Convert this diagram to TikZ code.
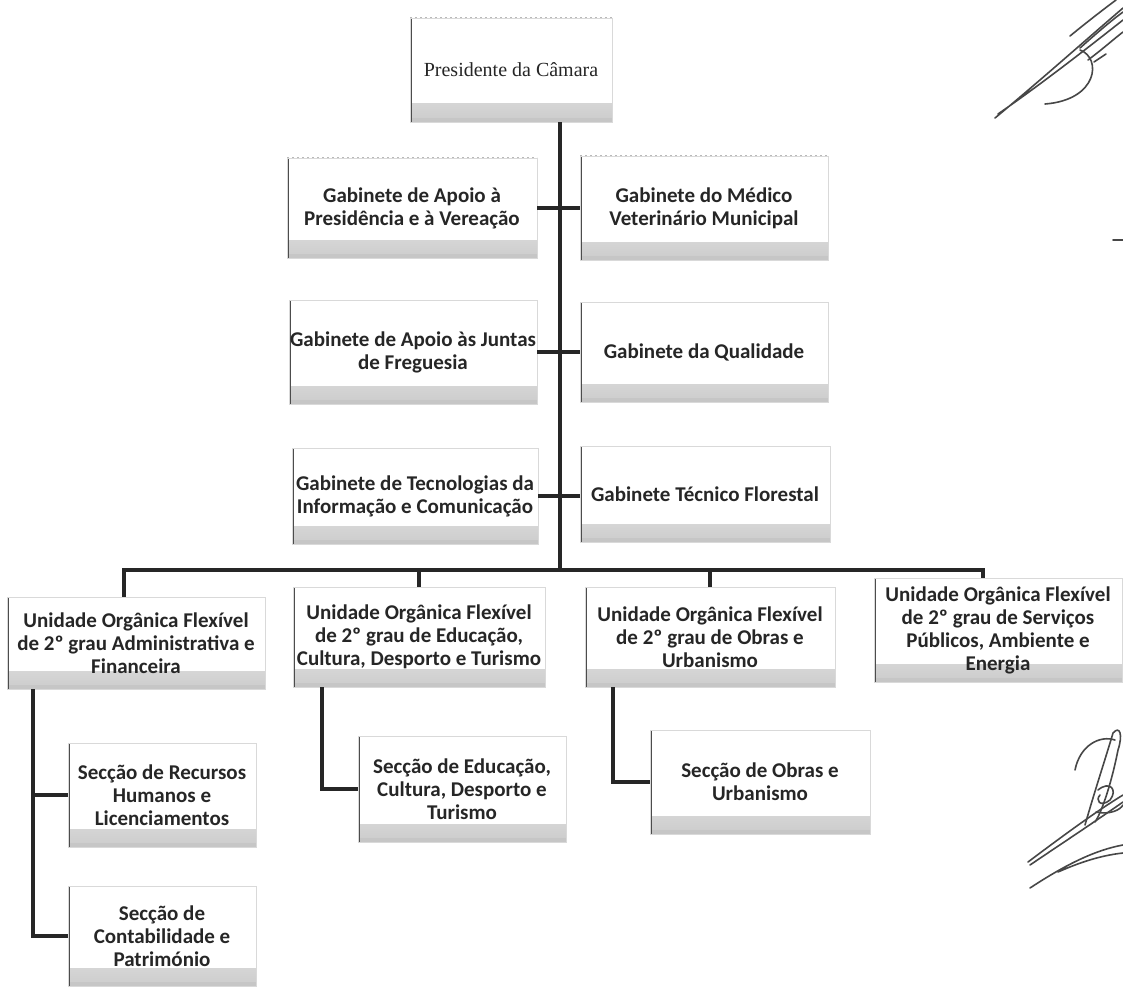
\documentclass[tikz,border=0pt]{standalone}
\usepackage{fontspec}
\newfontfamily\carlito{Carlito}
\newfontfamily\timesf{Liberation Serif}
\usetikzlibrary{calc}
\begin{document}
\begin{tikzpicture}[x=1pt,y=-1pt,
  box/.style={draw=gray!30, line width=0.5pt, fill=white, align=center, text=black!85,
    font=\carlito\bfseries\fontsize{21}{23}\selectfont, inner sep=0pt,
    path picture={
      \shade[top color=white, bottom color=gray!40]
        ([yshift=18pt]path picture bounding box.south west) rectangle ([yshift=4pt]path picture bounding box.south east);
      \fill[gray!45] ([yshift=4pt]path picture bounding box.south west) rectangle (path picture bounding box.south east);
      \draw[line width=3pt, black!70] (path picture bounding box.north west) -- (path picture bounding box.south west);
      \draw[line width=1pt, gray!55, dash pattern=on 2pt off 3pt] (path picture bounding box.north west) -- (path picture bounding box.north east);
    }},
  conn/.style={line width=4pt, black!85},
  sig/.style={line width=1.6pt, black!72, line cap=round, line join=round}]
\useasboundingbox (0,0) rectangle (1123,987);
\fill[white] (0,0) rectangle (1123,987);

% top node
\node[box, minimum width=202pt, minimum height=104pt,
      font=\timesf\fontsize{20}{24}\selectfont] (pres) at (511,70) {Presidente da Câmara};

% gabinetes
\node[box, minimum width=250pt, minimum height=100pt] (g1) at (412,208) {Gabinete de Apoio à\\Presidência e à Vereação};
\node[box, minimum width=248pt, minimum height=104pt] (g2) at (704,208) {Gabinete do Médico\\Veterinário Municipal};
\node[box, minimum width=248pt, minimum height=104pt] (g3) at (413,352) {Gabinete de Apoio às Juntas\\de Freguesia};
\node[box, minimum width=248pt, minimum height=100pt] (g4) at (704,352) {Gabinete da Qualidade};
\node[box, minimum width=246pt, minimum height=96pt] (g5) at (415,496) {Gabinete de Tecnologias da\\Informação e Comunicação};
\node[box, minimum width=250pt, minimum height=96pt] (g6) at (705,494) {Gabinete Técnico Florestal};

% unidades
\node[box, minimum width=258pt, minimum height=92pt] (u1) at (136,643) {Unidade Orgânica Flexível\\de 2º grau Administrativa e\\Financeira};
\node[box, minimum width=252pt, minimum height=100pt] (u2) at (419,637) {Unidade Orgânica Flexível\\de 2º grau de Educação,\\Cultura, Desporto e Turismo};
\node[box, minimum width=250pt, minimum height=100pt] (u3) at (710,637) {Unidade Orgânica Flexível\\de 2º grau de Obras e\\Urbanismo};
\node[box, minimum width=248pt, minimum height=104pt] (u4) at (998,630) {Unidade Orgânica Flexível\\de 2º grau de Serviços\\Públicos, Ambiente e\\Energia};

% secções
\node[box, minimum width=188pt, minimum height=104pt] (s1) at (162,795) {Secção de Recursos\\Humanos e\\Licenciamentos};
\node[box, minimum width=188pt, minimum height=100pt] (s2) at (162,936) {Secção de\\Contabilidade e\\Património};
\node[box, minimum width=208pt, minimum height=106pt] (s3) at (462,789) {Secção de Educação,\\Cultura, Desporto e\\Turismo};
\node[box, minimum width=220pt, minimum height=104pt] (s4) at (760,782) {Secção de Obras e\\Urbanismo};

% connectors
\coordinate (bar) at (560,570);
\draw[conn] (pres.south -| bar) -- (bar);
\draw[conn] (g1.east) -- (g1.east -| g2.west);
\draw[conn] (g3.east) -- (g3.east -| g4.west);
\draw[conn] (g5.east) -- (g5.east -| g6.west);
\draw[conn] ($(u1.north)+(-12,0)$) |- (bar) -| ($(u4.north)+(-15,0)$);
\draw[conn] (u2.north) -- (u2.north |- bar);
\draw[conn] (u3.north) -- (u3.north |- bar);
\draw[conn] ($(u1.south west)+(26,0)$) |- (s1.west);
\draw[conn] ($(u1.south west)+(26,0)$) |- (s2.west);
\draw[conn] ($(u2.south west)+(29,0)$) |- (s3.west);
\draw[conn] ($(u3.south west)+(28,0)$) |- (s4.west);

% signatures (handwritten marks)
\draw[sig] (995,118) .. controls (1035,85) and (1080,45) .. (1123,8)
           (998,114) .. controls (1040,85) and (1085,50) .. (1123,20);
\draw[sig] (1080,48) .. controls (1098,32) and (1112,20) .. (1123,12)
           (1088,60) .. controls (1104,48) and (1115,38) .. (1123,32)
           (1070,36) .. controls (1092,18) and (1108,6) .. (1116,0);
\draw[sig] (1080,50) .. controls (1102,58) and (1098,100) .. (1045,104);
\draw[sig] (1094,62) -- (1106,54);
\draw[sig] (1113,240) -- (1123,240);

\draw[sig] (1028,862) .. controls (1060,838) and (1095,812) .. (1123,795)
           (1123,802) .. controls (1090,825) and (1055,848) .. (1030,865);
\draw[sig] (1030,888) .. controls (1065,865) and (1095,850) .. (1123,845)
           (1058,872) .. controls (1085,860) and (1105,855) .. (1123,853);
\draw[sig] (1085,825) .. controls (1095,790) and (1105,760) .. (1113,733)
           .. controls (1120,725) and (1123,735) .. (1118,750)
           .. controls (1110,790) and (1100,815) .. (1095,822);
\draw[sig] (1075,770) .. controls (1080,745) and (1100,735) .. (1115,740);
\draw[sig] (1098,790) .. controls (1110,780) and (1118,790) .. (1110,800)
           .. controls (1100,808) and (1095,800) .. (1100,795);
\draw[sig] (1096,812) .. controls (1110,815) and (1120,810) .. (1123,805);
\end{tikzpicture}
\end{document}
